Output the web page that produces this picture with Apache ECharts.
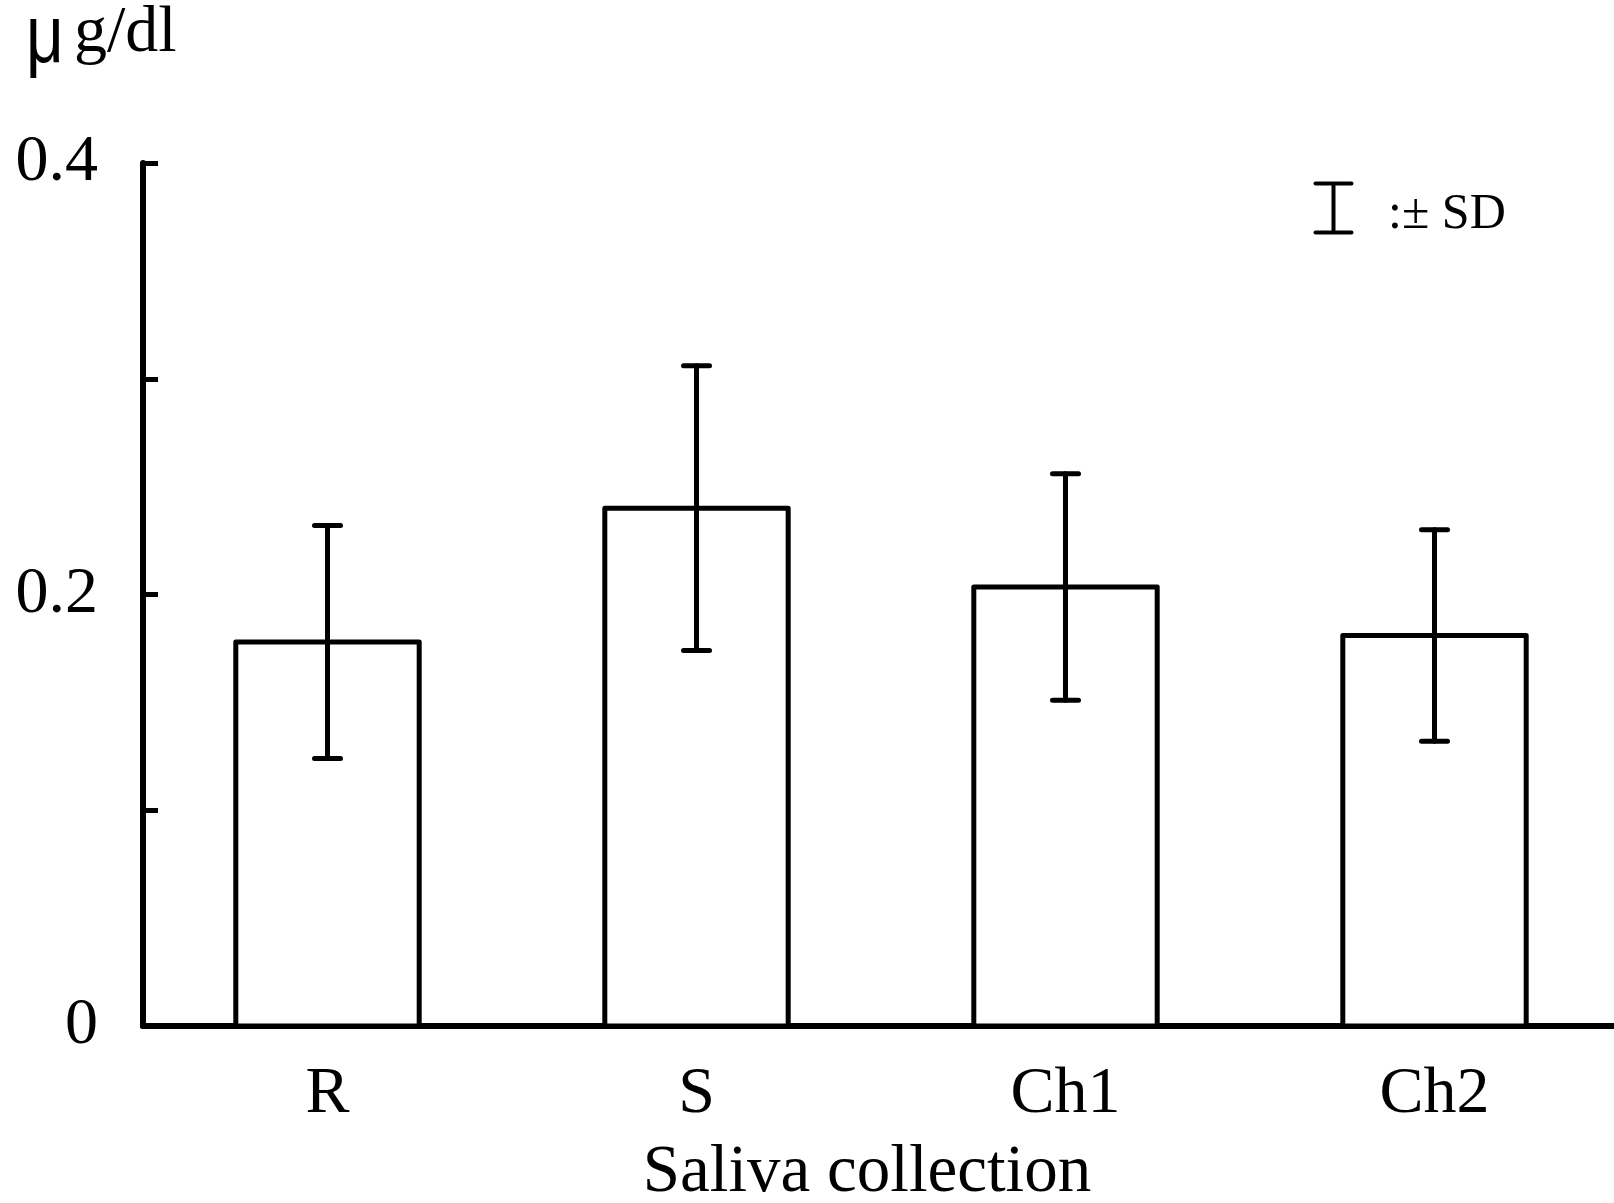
<!DOCTYPE html>
<html>
<head>
<meta charset="utf-8">
<script src="https://cdn.jsdelivr.net/npm/echarts@6/dist/echarts.min.js"></script>
<style>
html,body{margin:0;padding:0;background:#fff;}
#c{width:1614px;height:1203px;}
</style>
</head>
<body>
<div id="c"></div>
<script>
const categories = ['R', 'S', 'Ch1', 'Ch2'];
const means = [0.178, 0.240, 0.2035, 0.181];
const sds = [0.054, 0.066, 0.0525, 0.049];
const yTickLabels = ['0', '0.2', '0.4'];
const unitMu = 'μ';
const unitRest = 'g/dl';
const xAxisTitle = 'Saliva collection';
const legendText = ':± SD';

const FONT = '"Liberation Serif", "Times New Roman", serif';
const SANS = '"Liberation Sans", Arial, sans-serif';

const chart = echarts.init(document.getElementById('c'), null, {renderer: 'canvas'});

const barData = means.map((m, i) => [i, m]);
const errData = means.map((m, i) => [i, m - sds[i], m + sds[i]]);

chart.setOption({
  backgroundColor: '#fff',
  animation: false,
  grid: {left: 143, right: -5, top: 163, bottom: 1203 - 1026, containLabel: false, outerBoundsMode: 'none'},
  xAxis: {
    type: 'category',
    data: categories,
    name: xAxisTitle,
    nameLocation: 'middle',
    nameGap: 114,
    nameTextStyle: {fontFamily: FONT, fontSize: 67, color: '#000', padding: [0, 28, 0, 0]},
    axisLine: {show: true, lineStyle: {color: '#000', width: 6}},
    axisTick: {show: false},
    axisLabel: {fontFamily: FONT, fontSize: 66, color: '#000', margin: 36},
    splitLine: {show: false}
  },
  yAxis: {
    type: 'value',
    min: 0, max: 0.4, interval: 0.1,
    axisLine: {show: true, lineStyle: {color: '#000', width: 6}},
    axisTick: {show: true, inside: true, length: 15, lineStyle: {color: '#000', width: 5}},
    axisLabel: {
      fontFamily: FONT, fontSize: 66, color: '#000', margin: 45,
      formatter: function (v) {
        const s = String(Math.round(v * 10) / 10);
        return yTickLabels.indexOf(s) >= 0 ? s : '';
      }
    },
    splitLine: {show: false}
  },
  series: [
    {
      type: 'custom',
      data: barData,
      z: 2,
      renderItem: function (params, api) {
        const i = api.value(0);
        const top = api.coord([i, api.value(1)]);
        const base = api.coord([i, 0]);
        const w = api.size([1, 0])[0] * 0.497;
        return {
          type: 'rect',
          shape: {x: top[0] - w / 2, y: top[1], width: w, height: base[1] - top[1]},
          style: {fill: '#fff', stroke: '#000', lineWidth: 5, lineJoin: 'round'}
        };
      }
    },
    {
      type: 'custom',
      data: errData,
      z: 3,
      renderItem: function (params, api) {
        const x = api.value(0);
        const lo = api.coord([x, api.value(1)]);
        const hi = api.coord([x, api.value(2)]);
        const half = 13;
        const st = {stroke: '#000', lineWidth: 5, lineCap: 'round'};
        return {
          type: 'group',
          children: [
            {type: 'line', shape: {x1: hi[0], y1: hi[1], x2: lo[0], y2: lo[1]}, style: st},
            {type: 'line', shape: {x1: hi[0] - half, y1: hi[1], x2: hi[0] + half, y2: hi[1]}, style: st},
            {type: 'line', shape: {x1: lo[0] - half, y1: lo[1], x2: lo[0] + half, y2: lo[1]}, style: st}
          ]
        };
      }
    }
  ],
  graphic: [
    {
      type: 'text', x: 26, y: -2, scaleX: 0.8,
      style: {text: unitMu, font: '82px ' + SANS, fill: '#000'}
    },
    {
      type: 'text', x: 74, y: 1,
      style: {text: unitRest, font: '66px ' + FONT, fill: '#000'}
    },
    {
      type: 'group', left: 1313, top: 181,
      children: [
        {type: 'line', shape: {x1: 18, y1: 0, x2: 18, y2: 49}, style: {stroke: '#000', lineWidth: 4}},
        {type: 'line', shape: {x1: 0, y1: 0, x2: 36, y2: 0}, style: {stroke: '#000', lineWidth: 4, lineCap: 'round'}},
        {type: 'line', shape: {x1: 0, y1: 49, x2: 36, y2: 49}, style: {stroke: '#000', lineWidth: 4, lineCap: 'round'}}
      ]
    },
    {
      type: 'text', left: 1388, top: 190,
      style: {text: legendText, font: '50px ' + FONT, fill: '#000'}
    }
  ]
});
</script>
</body>
</html>
